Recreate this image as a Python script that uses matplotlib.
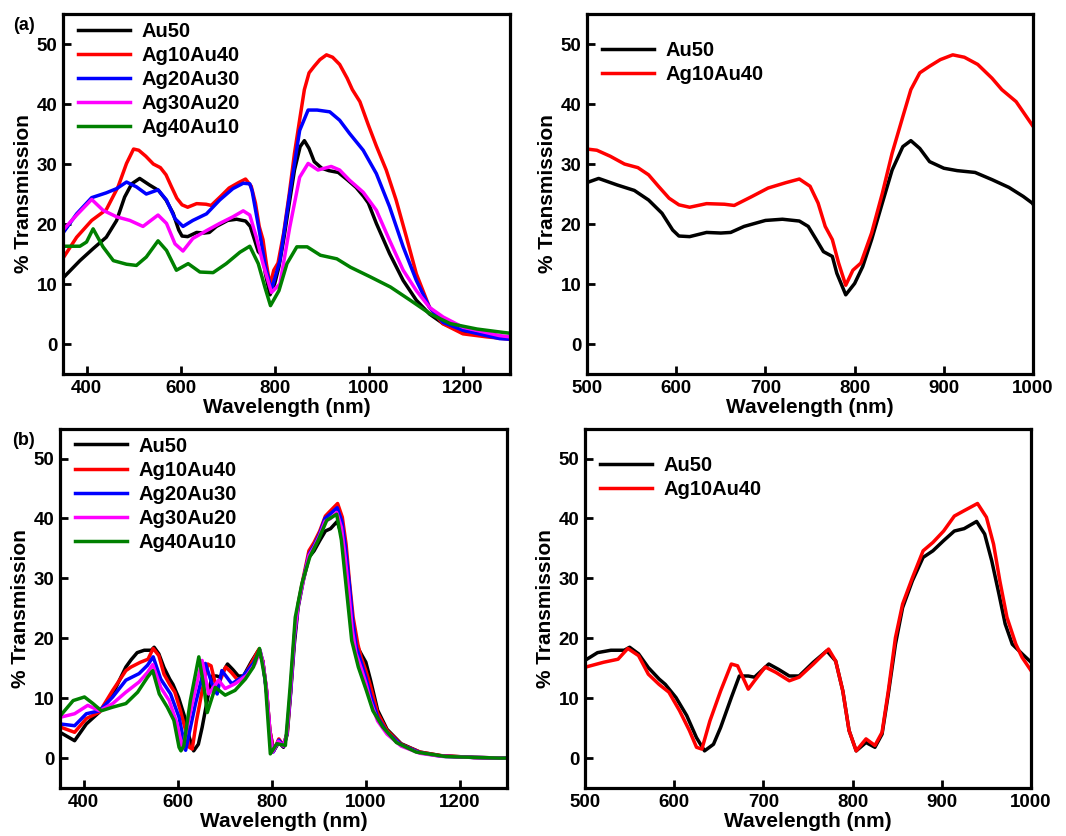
import matplotlib
matplotlib.use("Agg")
import matplotlib.pyplot as plt

plt.rcParams['font.family'] = ['Liberation Sans', 'DejaVu Sans']
plt.rcParams['font.weight'] = 'bold'
plt.rcParams['axes.labelweight'] = 'bold'

labels = ["Au50", "Ag10Au40", "Ag20Au30", "Ag30Au20", "Ag40Au10"]
colors = ["black", "#ff0000", "#0000ff", "#ff00ff", "#008000"]

# ---- panel (a) data: wavelength (nm), % transmission ----
a_au50_x = [350, 386, 414, 442, 464, 481, 496, 513, 534, 553, 569, 584, 596, 603, 615,
            634, 650, 661, 676, 700, 719, 738, 748, 757, 765, 775, 780, 790, 800, 809,
            819, 831, 842, 854, 863, 873, 884, 900, 915, 935, 954, 973, 989, 999,
            1016, 1044, 1073, 1101, 1129, 1158, 1200, 1250, 1300]
a_au50_y = [11.0, 13.9, 15.9, 17.8, 20.6, 24.5, 26.7, 27.6, 26.5, 25.6, 24.0, 21.8, 19.0, 18.0, 17.9,
            18.6, 18.5, 18.6, 19.6, 20.6, 20.8, 20.5, 19.6, 17.4, 15.4, 14.6, 11.8, 8.2, 10.1, 12.9,
            17.4, 23.5, 29.0, 32.9, 33.9, 32.6, 30.4, 29.3, 28.9, 28.6, 27.4, 26.1, 24.6, 23.5,
            20.1, 15.1, 10.6, 7.3, 5.0, 3.4, 2.0, 1.4, 0.9]

a_ag10_x = [350, 379, 411, 442, 467, 485, 500, 511, 526, 542, 557, 569, 580, 592, 603,
            615, 634, 654, 665, 685, 703, 723, 738, 750, 759, 767, 775, 782, 790, 798,
            807, 819, 831, 842, 854, 863, 873, 884, 896, 910, 923, 938, 954, 965, 981,
            999, 1016, 1037, 1058, 1080, 1101, 1129, 1157, 1200, 1250, 1300]
a_ag10_y = [14.3, 17.8, 20.6, 22.4, 26.2, 30.1, 32.5, 32.3, 31.3, 30.0, 29.4, 28.2, 26.3, 24.3, 23.2,
            22.8, 23.4, 23.3, 23.1, 24.6, 26.0, 26.9, 27.5, 26.3, 23.5, 19.6, 17.4, 13.5, 9.8, 12.3,
            13.5, 18.5, 25.1, 31.8, 37.9, 42.4, 45.2, 46.3, 47.4, 48.2, 47.8, 46.6, 44.3, 42.4, 40.4,
            36.5, 33.0, 29.0, 24.0, 17.8, 11.7, 6.1, 3.4, 1.7, 1.2, 0.8]

a_ag20_x = [350, 379, 411, 442, 464, 485, 506, 527, 552, 570, 588, 605, 626, 655, 683,
            711, 733, 747, 752, 768, 780, 793, 811, 832, 853, 871, 890, 917, 938, 959,
            988, 1016, 1044, 1073, 1101, 1129, 1158, 1200, 1278, 1300]
a_ag20_y = [18.5, 21.7, 24.4, 25.2, 25.9, 27.0, 26.2, 25.0, 25.7, 24.0, 20.9, 19.6, 20.6, 21.7, 24.0,
            25.9, 26.8, 26.7, 25.5, 18.5, 13.0, 9.0, 13.9, 25.1, 35.6, 39.0, 39.0, 38.7, 37.3, 35.1,
            32.3, 28.4, 22.9, 16.2, 10.6, 6.1, 3.6, 2.3, 0.9, 0.8]

a_ag30_x = [350, 379, 411, 435, 464, 492, 520, 552, 570, 588, 605, 626, 655, 683, 711,
            733, 747, 761, 775, 793, 811, 832, 853, 871, 892, 920, 938, 959, 988, 1016,
            1044, 1073, 1101, 1129, 1158, 1200, 1278, 1300]
a_ag30_y = [19.0, 21.5, 24.1, 22.3, 21.2, 20.6, 19.6, 21.5, 20.1, 16.7, 15.5, 17.6, 18.9, 20.1, 21.2,
            22.2, 21.5, 17.8, 13.4, 8.6, 10.0, 19.5, 27.8, 30.1, 29.0, 29.6, 29.0, 27.3, 25.3, 22.3,
            17.3, 12.3, 8.9, 6.1, 4.5, 2.8, 1.4, 1.2]

a_ag40_x = [350, 386, 400, 414, 435, 457, 485, 506, 527, 552, 570, 591, 616, 641, 669,
            697, 726, 747, 765, 779, 791, 809, 826, 847, 869, 897, 932, 961, 1003, 1046,
            1088, 1131, 1173, 1230, 1279, 1300]
a_ag40_y = [16.3, 16.3, 17.0, 19.2, 16.2, 13.9, 13.3, 13.1, 14.5, 17.2, 15.6, 12.3, 13.4, 12.0, 11.9,
            13.4, 15.3, 16.3, 13.4, 9.5, 6.4, 8.9, 13.4, 16.2, 16.2, 14.8, 14.2, 12.8, 11.2, 9.5,
            7.3, 5.0, 3.4, 2.5, 2.0, 1.8]

# ---- panel (b) data ----
b_au50_x = [350, 381, 406, 434, 462, 490, 501, 514, 529, 544, 550, 560, 571, 583, 590,
            602, 614, 625, 634, 644, 652, 664, 673, 683, 690, 706, 717, 729, 740, 756,
            771, 781, 789, 796, 804, 815, 825, 833, 840, 848, 856, 867, 879, 890, 902,
            914, 925, 939, 948, 956, 964, 971, 979, 990, 1000, 1010, 1025, 1045, 1075,
            1115, 1160, 1230, 1300]
b_au50_y = [4.3, 2.9, 5.7, 7.7, 10.7, 15.2, 16.4, 17.6, 18.0, 18.0, 18.5, 17.4, 15.1, 13.2, 12.3,
            10.1, 7.1, 3.4, 1.2, 2.3, 5.1, 10.1, 13.7, 13.7, 13.5, 15.7, 14.8, 13.7, 13.7, 16.0,
            17.9, 16.2, 11.2, 4.6, 1.2, 2.6, 1.8, 4.0, 10.7, 19.0, 25.1, 29.6, 33.5, 34.6, 36.3,
            37.9, 38.3, 39.5, 37.4, 32.9, 27.4, 22.4, 19.0, 17.4, 16.0, 13.0, 8.0, 4.8, 2.4,
            1.0, 0.4, 0.1, 0.0]

b_ag10_x = [350, 381, 406, 434, 462, 490, 501, 521, 537, 548, 560, 571, 583, 594, 606,
            617, 625, 631, 640, 652, 664, 671, 683, 690, 702, 714, 729, 740, 756, 773,
            781, 789, 796, 804, 815, 825, 833, 840, 848, 856, 867, 879, 890, 902, 914,
            925, 940, 950, 958, 965, 973, 983, 990, 1000, 1010, 1025, 1045, 1075, 1115,
            1160, 1230, 1300]
b_ag10_y = [5.2, 4.3, 6.6, 7.7, 11.3, 14.6, 15.2, 16.0, 16.5, 18.3, 17.1, 14.0, 12.3, 11.0, 7.9,
            4.6, 1.8, 1.5, 6.2, 11.2, 15.7, 15.4, 11.5, 12.9, 15.2, 14.3, 12.9, 13.5, 15.7, 18.2,
            16.2, 11.2, 4.6, 1.2, 3.2, 2.1, 4.3, 11.2, 20.1, 25.7, 30.1, 34.6, 36.0, 37.9, 40.4,
            41.3, 42.5, 40.2, 35.7, 29.6, 23.5, 19.0, 16.8, 14.6, 12.0, 7.5, 4.6, 2.3, 1.0,
            0.4, 0.1, 0.0]

b_ag20_x = [350, 381, 406, 434, 462, 490, 518, 536, 548, 564, 585, 603, 617, 638, 659,
            673, 684, 694, 715, 737, 761, 775, 781, 789, 796, 803, 815, 825, 832, 840,
            848, 856, 867, 879, 890, 902, 913, 925, 939, 949, 957, 965, 972, 980, 990,
            1000, 1010, 1025, 1045, 1075, 1115, 1160, 1230, 1300]
b_ag20_y = [5.7, 5.4, 7.4, 7.9, 10.2, 13.0, 14.1, 15.5, 16.9, 13.2, 10.7, 6.8, 1.3, 9.1, 15.8,
            12.4, 10.7, 14.6, 12.4, 13.5, 15.8, 18.0, 16.0, 11.0, 4.0, 1.0, 3.0, 2.0, 4.0, 11.0,
            20.0, 25.5, 29.8, 34.0, 35.5, 37.5, 40.0, 40.8, 41.8, 39.5, 35.0, 29.0, 23.0, 18.5, 16.0,
            13.5, 10.5, 6.8, 4.3, 2.2, 0.9, 0.3, 0.1, 0.0]

b_ag30_x = [350, 381, 409, 434, 462, 490, 518, 536, 547, 564, 582, 599, 610, 631, 652,
            666, 687, 701, 722, 747, 765, 775, 781, 789, 796, 802, 814, 825, 832, 840,
            848, 856, 867, 879, 890, 902, 913, 925, 938, 948, 956, 964, 971, 979, 990,
            1000, 1010, 1025, 1045, 1075, 1115, 1160, 1230, 1300]
b_ag30_y = [6.8, 7.4, 8.8, 7.9, 9.1, 11.0, 12.7, 14.3, 15.6, 11.8, 9.6, 5.7, 1.5, 9.1, 16.3,
            10.7, 13.0, 11.6, 12.4, 13.8, 15.8, 18.0, 16.0, 11.5, 4.5, 1.0, 2.8, 2.0, 4.0, 11.5,
            20.5, 25.5, 29.6, 33.8, 35.2, 37.2, 39.5, 40.0, 41.0, 38.5, 33.5, 27.5, 21.5, 17.5, 15.0,
            12.5, 9.5, 6.2, 4.0, 2.0, 0.8, 0.3, 0.1, 0.0]

b_ag40_x = [350, 378, 402, 420, 438, 462, 490, 515, 536, 547, 561, 578, 592, 603, 607,
            613, 627, 645, 656, 663, 680, 701, 722, 744, 761, 774, 786, 797, 811, 829,
            839, 850, 864, 881, 899, 917, 938, 948, 959, 970, 984, 1001, 1015, 1036, 1065,
            1107, 1170, 1283, 1300]
b_ag40_y = [7.0, 9.6, 10.2, 9.1, 7.9, 8.5, 9.1, 11.0, 13.5, 14.6, 10.7, 8.5, 6.3, 1.8, 1.2,
            2.0, 9.6, 16.9, 11.8, 7.6, 11.8, 10.5, 11.3, 13.2, 15.2, 18.3, 13.0, 0.7, 2.4, 2.1,
            11.8, 23.5, 29.1, 33.6, 36.4, 39.7, 40.7, 36.4, 28.0, 19.6, 15.2, 11.3, 7.9, 5.2, 2.6,
            1.0, 0.25, 0.0, 0.0]

a_series = [(a_au50_x, a_au50_y), (a_ag10_x, a_ag10_y), (a_ag20_x, a_ag20_y),
            (a_ag30_x, a_ag30_y), (a_ag40_x, a_ag40_y)]
b_series = [(b_au50_x, b_au50_y), (b_ag10_x, b_ag10_y), (b_ag20_x, b_ag20_y),
            (b_ag30_x, b_ag30_y), (b_ag40_x, b_ag40_y)]

LW = 2.5


def style_axes(ax, xlim, xticks):
    ax.set_xlim(*xlim)
    ax.set_ylim(-5, 55)
    ax.set_xticks(xticks)
    ax.set_yticks([0, 10, 20, 30, 40, 50])
    for s in ax.spines.values():
        s.set_linewidth(2.3)
    ax.tick_params(direction='in', length=6, width=2, labelsize=13.5, pad=4,
                   top=False, right=False)
    ax.set_xlabel("Wavelength (nm)", fontsize=15, labelpad=1)
    ax.set_ylabel("% Transmission", fontsize=15, labelpad=3)


def add_legend(ax, top):
    ax.legend(loc='upper left', bbox_to_anchor=(0.033, top), frameon=False,
              fontsize=14.5, handlelength=2.6, handletextpad=0.55, labelspacing=0.25,
              borderpad=0, borderaxespad=0)


fig = plt.figure(figsize=(10.66, 8.36), dpi=100)
ax_a = fig.add_axes([0.0591, 0.5526, 0.4193, 0.4306])
ax_ar = fig.add_axes([0.5507, 0.5526, 0.4184, 0.4306])
ax_b = fig.add_axes([0.0563, 0.0574, 0.4193, 0.4299])
ax_br = fig.add_axes([0.5488, 0.0574, 0.4184, 0.4299])

for (x, y), lab, c in zip(a_series, labels, colors):
    ax_a.plot(x, y, color=c, lw=LW, label=lab)
for (x, y), lab, c in zip(a_series[:2], labels[:2], colors[:2]):
    ax_ar.plot(x, y, color=c, lw=LW, label=lab)
for (x, y), lab, c in zip(b_series, labels, colors):
    ax_b.plot(x, y, color=c, lw=LW, label=lab)
for (x, y), lab, c in zip(b_series[:2], labels[:2], colors[:2]):
    ax_br.plot(x, y, color=c, lw=LW, label=lab)

style_axes(ax_a, (350, 1300), [400, 600, 800, 1000, 1200])
style_axes(ax_b, (350, 1300), [400, 600, 800, 1000, 1200])
style_axes(ax_ar, (500, 1000), [500, 600, 700, 800, 900, 1000])
style_axes(ax_br, (500, 1000), [500, 600, 700, 800, 900, 1000])

add_legend(ax_a, 0.978)
add_legend(ax_b, 0.978)
add_legend(ax_ar, 0.925)
add_legend(ax_br, 0.925)

fig.text(0.0225, 0.969, "(a)", fontsize=13, fontweight='bold', ha='center', va='center')
fig.text(0.0225, 0.473, "(b)", fontsize=13, fontweight='bold', ha='center', va='center')

fig.savefig("out.png", dpi=100)
